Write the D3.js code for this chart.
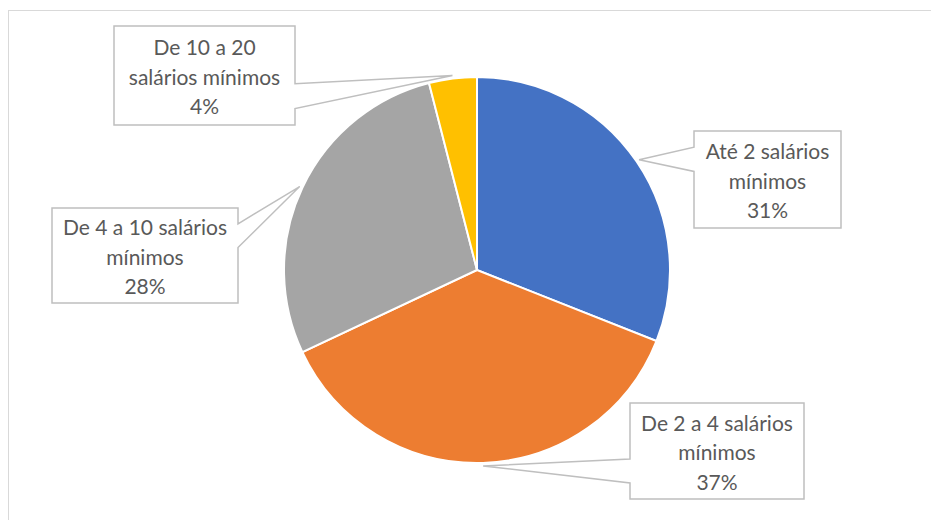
<!DOCTYPE html>
<meta charset="utf-8">
<style>
body { margin: 0; background: #fff; }
.callout text { font: 21px Lato, sans-serif; fill: #595959; }
</style>
<div id="chart"></div>
<script src="https://d3js.org/d3.v7.min.js"></script>
<script>

// income brackets and their share (%)
var categories = ["Até 2 salários mínimos", "De 2 a 4 salários mínimos", "De 4 a 10 salários mínimos", "De 10 a 20 salários mínimos"];
var shares = [31, 37, 28, 4];
var colors = ["#4472C4", "#ED7D31", "#A5A5A5", "#FFC000"];

// where each label box sits (x, y, width, height)
var boxes = [
  [694, 131, 147, 97],
  [630, 403, 174, 96],
  [52, 208, 186, 95],
  [114, 26, 181, 99]
];

var width = 931, height = 520,
    cx = 477, cy = 270, radius = 193;

var svg = d3.select("#chart")
  .append("svg")
    .attr("width", width)
    .attr("height", height);

// light chart area frame
svg.append("rect")
  .attr("x", 8.5).attr("y", 10.5)
  .attr("width", 960).attr("height", 540)
  .attr("fill", "none")
  .attr("stroke", "#D9D9D9");

var pie = d3.pie().sort(null).value(function(d) { return d; });
var arc = d3.arc().innerRadius(0).outerRadius(radius);
var arcs = pie(shares);

var g = svg.append("g").attr("transform", "translate(" + cx + "," + cy + ")");

g.selectAll("path")
  .data(arcs)
  .enter()
  .append("path")
    .attr("d", arc)
    .attr("fill", function(d, i) { return colors[i]; })
    .attr("stroke", "#fff")
    .attr("stroke-width", 2);

// rectangle callout with a wedge pointing at (tx, ty)
function calloutPath(b, tx, ty) {
  var x = b[0], y = b[1], w = b[2], h = b[3];
  var dx = tx - (x + w / 2), dy = ty - (y + h / 2);
  var dz = Math.abs(dy) - Math.abs(dx * h / w);
  var x1 = x + w * (dx > 0 ? 7 : 2) / 12, x2 = x + w * (dx > 0 ? 10 : 5) / 12;
  var y1 = y + h * (dy > 0 ? 7 : 2) / 12, y2 = y + h * (dy > 0 ? 10 : 5) / 12;
  var p = d3.path();
  p.moveTo(x, y);
  if (dz > 0 && dy < 0) { p.lineTo(x1, y); p.lineTo(tx, ty); p.lineTo(x2, y); }
  p.lineTo(x + w, y);
  if (dz <= 0 && dx > 0) { p.lineTo(x + w, y1); p.lineTo(tx, ty); p.lineTo(x + w, y2); }
  p.lineTo(x + w, y + h);
  if (dz > 0 && dy > 0) { p.lineTo(x2, y + h); p.lineTo(tx, ty); p.lineTo(x1, y + h); }
  p.lineTo(x, y + h);
  if (dz <= 0 && dx < 0) { p.lineTo(x, y2); p.lineTo(tx, ty); p.lineTo(x, y1); }
  p.closePath();
  return p.toString();
}

var labels = svg.append("g").attr("class", "callout")
  .selectAll("g")
  .data(arcs)
  .enter()
  .append("g");

labels.append("path")
  .attr("d", function(d, i) {
    var a = (d.startAngle + d.endAngle) / 2;
    var tx = cx + (radius + 3) * Math.sin(a),
        ty = cy - (radius + 3) * Math.cos(a);
    return calloutPath(boxes[i], tx, ty);
  })
  .attr("fill", "#fff")
  .attr("stroke", "#BFBFBF")
  .attr("stroke-width", 1.5);

labels.each(function(d, i) {
  var b = boxes[i];
  var sel = d3.select(this);
  var maxW = b[2] - 18;
  // greedy word wrap inside the box
  var words = categories[i].split(" "), lines = [], line = [];
  var probe = sel.append("text");
  words.forEach(function(w) {
    var test = line.concat([w]).join(" ");
    probe.text(test);
    if (line.length && probe.node().getComputedTextLength() > maxW) {
      lines.push(line.join(" "));
      line = [w];
    } else {
      line.push(w);
    }
  });
  lines.push(line.join(" "));
  probe.remove();
  lines.push(Math.round(shares[i] / d3.sum(shares) * 100) + "%");

  var mid = (lines.length - 1) / 2;
  sel.selectAll("text.l")
    .data(lines)
    .enter()
    .append("text")
      .attr("class", "l")
      .attr("text-anchor", "middle")
      .attr("x", b[0] + b[2] / 2)
      .attr("y", function(t, j) { return b[1] + b[3] / 2 + 9 + (j - mid) * 29.5; })
      .text(function(t) { return t; });
});

</script>
